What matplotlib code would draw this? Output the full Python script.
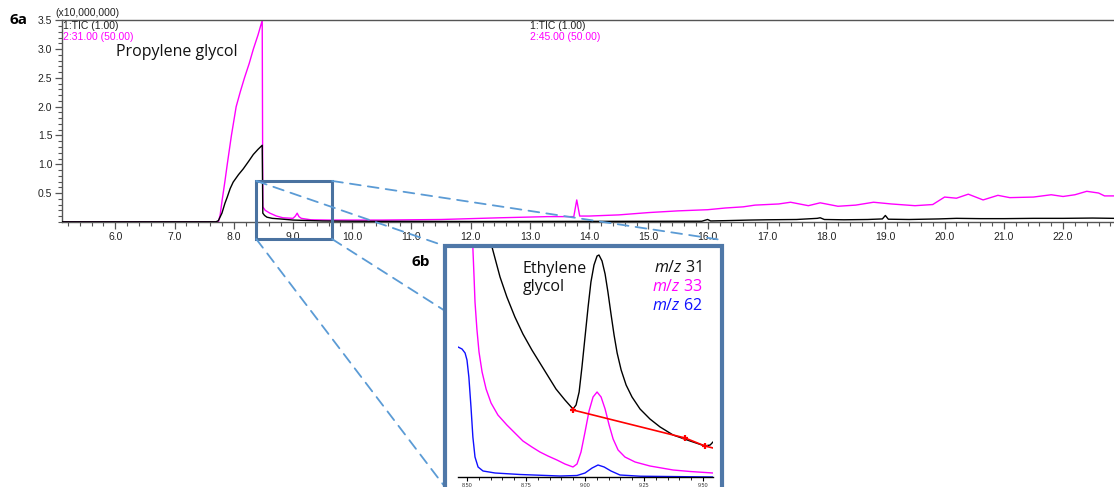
import numpy as np
import matplotlib
matplotlib.use('Agg')
import matplotlib.pyplot as plt
from matplotlib.patches import Rectangle, ConnectionPatch
from matplotlib.ticker import MultipleLocator

plt.rcParams['mathtext.fontset'] = 'custom'
plt.rcParams['mathtext.it'] = 'Open Sans:italic'
plt.rcParams['mathtext.rm'] = 'Open Sans'

# 6a: chromatogram, retention time (min) vs intensity (x10,000,000)
tic_t = [5.1, 7.70, 7.74, 7.80, 7.85, 7.89, 7.94, 7.99, 8.08, 8.16, 8.25, 8.33, 8.41, 8.48,
         8.49, 8.52, 8.56, 8.65, 8.78, 9.0, 9.5, 10.0, 12.0, 15.9, 16.0, 16.05, 16.3, 16.7,
         17.0, 17.5, 17.85, 17.9, 17.97, 18.3, 18.7, 18.95, 19.0, 19.05, 19.4, 19.9, 20.2,
         20.6, 21.0, 21.5, 22.0, 22.5, 22.86]
tic_y = [0.0, 0.0, 0.02, 0.15, 0.32, 0.43, 0.58, 0.69, 0.82, 0.92, 1.05, 1.17, 1.26, 1.33,
         0.15, 0.11, 0.08, 0.06, 0.05, 0.03, 0.015, 0.01, 0.005, 0.01, 0.04, 0.015, 0.02, 0.03,
         0.035, 0.04, 0.06, 0.07, 0.04, 0.035, 0.04, 0.05, 0.11, 0.045, 0.04, 0.05, 0.06,
         0.055, 0.055, 0.06, 0.06, 0.065, 0.06]

m31_t = [5.1, 7.70, 7.74, 7.77, 7.80, 7.85, 7.89, 7.96, 8.04, 8.11, 8.18, 8.26, 8.33, 8.41,
         8.48, 8.49, 8.53, 8.61, 8.72, 8.83, 9.0, 9.04, 9.07, 9.10, 9.14, 9.3, 9.6, 10.5,
         11.5, 12.5, 13.3, 13.74, 13.79, 13.84, 14.0, 14.5, 15.0, 15.5, 16.0, 16.3, 16.6,
         16.8, 17.0, 17.2, 17.4, 17.7, 17.9, 18.2, 18.5, 18.8, 19.1, 19.5, 19.8, 20.0, 20.2,
         20.4, 20.65, 20.9, 21.1, 21.5, 21.8, 22.0, 22.2, 22.4, 22.6, 22.7, 22.86]
m31_y = [0.0, 0.0, 0.0, 0.12, 0.35, 0.70, 1.00, 1.50, 2.00, 2.26, 2.50, 2.75, 3.00, 3.25,
         3.50, 0.26, 0.20, 0.15, 0.10, 0.07, 0.06, 0.10, 0.15, 0.09, 0.06, 0.035, 0.03, 0.03,
         0.04, 0.07, 0.09, 0.09, 0.38, 0.10, 0.10, 0.12, 0.16, 0.19, 0.21, 0.24, 0.26,
         0.29, 0.30, 0.31, 0.34, 0.28, 0.33, 0.27, 0.29, 0.34, 0.31, 0.28, 0.30, 0.43, 0.41,
         0.48, 0.38, 0.46, 0.42, 0.43, 0.47, 0.44, 0.47, 0.53, 0.50, 0.45, 0.45]

# 6b: zoom on ethylene glycol, relative intensity
b31_t = [8.589, 8.606, 8.640, 8.669, 8.703, 8.737, 8.775, 8.809, 8.843, 8.877, 8.915, 8.949,
         8.962, 8.975, 8.987, 9.000, 9.013, 9.025, 9.038, 9.051, 9.059, 9.072, 9.085, 9.097,
         9.110, 9.123, 9.136, 9.153, 9.174, 9.199, 9.233, 9.275, 9.318, 9.373, 9.445, 9.508,
         9.530, 9.542]
b31_y = [260, 230, 200, 180, 160, 143, 127, 114, 101, 88, 77, 68,
         72, 85, 110, 140, 170, 195, 212, 221, 222, 216, 203, 185,
         163, 142, 124, 107, 92, 80, 68, 58, 50, 42, 36, 31,
         32, 35]

b33_t = [8.521, 8.525, 8.530, 8.534, 8.542, 8.551, 8.564, 8.581, 8.602, 8.631, 8.669, 8.703,
         8.737, 8.775, 8.809, 8.843, 8.881, 8.915, 8.949, 8.966, 8.983, 9.000, 9.017, 9.034,
         9.051, 9.068, 9.085, 9.102, 9.119, 9.140, 9.169, 9.212, 9.275, 9.373, 9.445, 9.542]
b33_y = [260, 229, 200, 175, 148, 125, 105, 88, 74, 62, 52, 44,
         36, 30, 25, 21, 17, 13, 10, 13, 25, 45, 66, 80,
         85, 80, 68, 52, 38, 27, 20, 15, 11, 7, 5.5, 4]

b62_t = [8.462, 8.479, 8.492, 8.500, 8.508, 8.517, 8.525, 8.534, 8.547, 8.568, 8.619, 8.725,
         8.894, 8.966, 9.000, 9.030, 9.055, 9.081, 9.110, 9.148, 9.233, 9.542]
b62_y = [130, 128, 124, 117, 100, 70, 40, 20, 10, 6, 4, 2.5,
         1, 1.5, 4, 9, 12, 10, 6, 2, 0.8, 0]

base_t = [8.949, 9.424, 9.508]
base_y = [67, 39, 31]
inset_ticks = [8.50, 8.75, 9.00, 9.25, 9.50]

W, H = 1114, 487
fig = plt.figure(figsize=(W / 100, H / 100), dpi=100)


def px(x, y):
    return x / W, 1 - y / H


tick_font = dict(family='Liberation Sans', size=7.5, color='#222222')
spine_col = '#555555'

# ---------- 6a ----------
ax = fig.add_axes([62 / W, 1 - 221.8 / H, 1052 / W, 201.4 / H])
ax.plot(tic_t, tic_y, color='black', lw=1.0, zorder=3)
ax.plot(m31_t, m31_y, color='#ff00ff', lw=1.0, zorder=2)
ax.set_xlim(5.1, 22.86)
ax.set_ylim(0, 3.5)
ax.xaxis.set_minor_locator(MultipleLocator(0.2))
ax.yaxis.set_minor_locator(MultipleLocator(0.1))
ax.set_xticks(np.arange(6, 23, 1.0))
ax.set_xticklabels([f'{v:.1f}' for v in np.arange(6, 23, 1.0)], **tick_font)
ax.set_yticks(np.arange(0.5, 3.51, 0.5))
ax.set_yticklabels([f'{v:.1f}' for v in np.arange(0.5, 3.51, 0.5)], **tick_font)
ax.tick_params(which='major', length=5, width=0.9, color=spine_col, pad=2)
ax.tick_params(which='minor', length=3, width=0.8, color=spine_col)
for s in ['left', 'bottom', 'top']:
    ax.spines[s].set_color(spine_col)
    ax.spines[s].set_linewidth(1.0)
ax.spines['right'].set_visible(False)

# zoom window on the main chart
zoom_box = Rectangle((8.38, -0.30), 1.28, 1.01, fill=False, edgecolor='#4a72a0',
                     lw=2.2, clip_on=False, zorder=4)
ax.add_patch(zoom_box)

fig.text(*px(10, 20), '6a', fontsize=11, fontweight='bold', family='Open Sans', va='center')
fig.text(*px(55, 13), '(x10,000,000)', ha='left', va='center', **tick_font)
fig.text(*px(63, 26), '1:TIC (1.00)', ha='left', va='center', **tick_font)
fig.text(*px(63, 37), '2:31.00 (50.00)', ha='left', va='center',
         family='Liberation Sans', size=7.5, color='#ff00ff')
fig.text(*px(530, 26), '1:TIC (1.00)', ha='left', va='center', **tick_font)
fig.text(*px(530, 37), '2:45.00 (50.00)', ha='left', va='center',
         family='Liberation Sans', size=7.5, color='#ff00ff')
fig.text(*px(116, 52), 'Propylene glycol', ha='left', va='center', fontsize=11.5,
         family='Open Sans', color='#111111')

# ---------- 6b ----------
fx0, fx1, fy0 = 445, 722, 246
frame = Rectangle(px(fx0, 510), (fx1 - fx0) / W, (510 - fy0) / H, transform=fig.transFigure,
                  facecolor='white', edgecolor='#4f78a8', lw=3, zorder=6)
fig.add_artist(frame)

ax2 = fig.add_axes([458 / W, 1 - 477 / H, 255 / W, 229 / H], zorder=7)
ax2.patch.set_visible(False)
ax2.plot(b31_t, b31_y, color='black', lw=1.0)
ax2.plot(b33_t, b33_y, color='#ff00ff', lw=1.0)
ax2.plot(b62_t, b62_y, color='#1010ff', lw=1.0)
ax2.plot(base_t + [9.542], base_y + [29], color='red', lw=1.2)
ax2.plot(base_t, base_y, ls='none', marker='+', ms=5, mew=1.6, color='red')
ax2.set_xlim(8.462, 9.542)
ax2.set_ylim(0, 229)
ax2.set_xticks(inset_ticks)
ax2.set_xticklabels([f'{v:.2f}' for v in inset_ticks], family='Liberation Sans', size=4,
                    color='#333333')
ax2.xaxis.set_minor_locator(MultipleLocator(0.05))
ax2.set_yticks([])
ax2.tick_params(which='major', length=3, width=0.8, pad=1)
ax2.tick_params(which='minor', length=2, width=0.6)
for s in ['left', 'top', 'right']:
    ax2.spines[s].set_visible(False)
ax2.spines['bottom'].set_linewidth(1.0)

fig.text(*px(412, 262), '6b', fontsize=11, fontweight='bold', family='Open Sans',
         va='center', zorder=8)
fig.text(*px(523, 278), 'Ethylene\nglycol', fontsize=11.5, family='Open Sans', va='center',
         linespacing=1.2, color='#111111', zorder=8)
for yy, lab, col in [(268, '31', '#111111'), (287, '33', '#ff00ff'), (306, '62', '#1010ff')]:
    fig.text(*px(702, yy), r'$m/z$ ' + lab, fontsize=11.5, family='Open Sans', color=col,
             ha='right', va='center', zorder=8)

# dashed connector lines from the zoom window to the 6b frame
dash_col = '#5b9bd5'
corners = [((8.38, 0.71), (445, 246)), ((9.66, 0.71), (722, 240)),
           ((8.38, -0.30), (445, 487)), ((9.66, -0.30), (722, 487))]
for (dx, dy), (ex, ey) in corners:
    con = ConnectionPatch(xyA=(dx, dy), coordsA=ax.transData, xyB=px(ex, ey),
                          coordsB=fig.transFigure, color=dash_col, lw=1.3,
                          linestyle=(0, (6, 4)), zorder=3)
    fig.add_artist(con)

fig.savefig('out.png', dpi=100)
